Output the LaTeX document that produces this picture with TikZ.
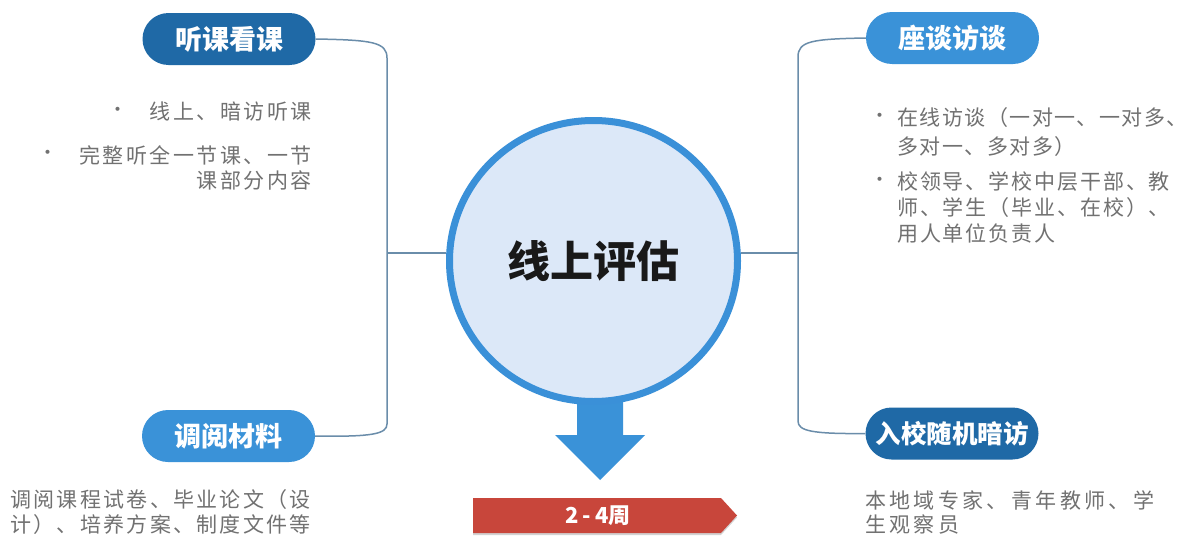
\documentclass[tikz,border=0pt]{standalone}
\usepackage{fontspec}
\newfontfamily\cjk{Noto Sans CJK SC}
\usetikzlibrary{shadows,shapes.geometric}
\definecolor{darkpill}{HTML}{1F69A6}
\definecolor{lightpill}{HTML}{3A92D8}
\definecolor{ring}{HTML}{3A90D8}
\definecolor{ringfill}{HTML}{DCE8F8}
\definecolor{conn}{HTML}{6A8DAA}
\definecolor{bodygray}{HTML}{717171}
\definecolor{banner}{HTML}{C8463B}
\tikzset{
  pill/.style={rectangle, rounded corners=26pt, minimum width=173pt, minimum height=52pt,
    inner sep=0, text=white, font=\cjk\bfseries\fontsize{27}{30}\selectfont},
  body/.style={inner sep=0, text=bodygray, font=\cjk\fontsize{21}{25}\selectfont},
  bul/.style={inner sep=0, text=bodygray, font=\cjk\fontsize{19}{19}\selectfont},
  connector/.style={draw=conn, line width=1.5pt},
}
\begin{document}
\begin{tikzpicture}[x=1pt,y=-1pt]
\useasboundingbox (0,0) rectangle (1192,538);
\fill[white] (0,0) rectangle (1192,538);

% arrow below circle
\fill[lightpill] (577,390) -- (623,390) -- (623,435) -- (645,435) -- (600,480) -- (555,435) -- (577,435) -- cycle;

% central circle
\node[ellipse, draw=ring, line width=7pt, fill=ringfill, minimum width=288pt, minimum height=281pt, inner sep=0,
  font=\cjk\bfseries\fontsize{43}{46}\selectfont, text=black!90] (c) at (593.5,261) {\raisebox{-7pt}{线上评估}};

% pills
\node[pill, fill=darkpill] (p1) at (229,39) {听课看课};
\node[pill, fill=lightpill] (p3) at (228.5,436) {调阅材料};
\node[pill, fill=lightpill] (p2) at (952.5,38) {座谈访谈};
\node[pill, fill=darkpill, font=\cjk\bfseries\fontsize{25.5}{28}\selectfont] (p4) at (952,433.5) {入校随机暗访};

% connectors
\coordinate (hl) at (0,253);
\draw[connector] (p1.east) .. controls (372,40) and (387,42) .. (387,58) -- (387,424) .. controls (387,434) and (372,437) .. (p3.east);
\draw[connector] (p2.west) .. controls (812,39) and (798,41) .. (798,57) -- (798,421) .. controls (798,431) and (812,434) .. (p4.west);
\draw[connector] (c.west |- hl) -- (387,253);
\draw[connector] (c.east |- hl) -- (798,253);

% banner
\fill[banner, drop shadow={shadow xshift=0pt, shadow yshift=-2pt, opacity=0.35}]
  (473,498) -- (721,498) -- (737,515.5) -- (721,533) -- (473,533) -- cycle;
\node[text=white, inner sep=0, font=\cjk\bfseries\fontsize{22}{24}\selectfont] (wk) at (598,515.5) {2\hspace{4pt}-\hspace{4pt}4周};

% left top texts
\node[bul] (lb1) at (118,112) {•};
\node[body, anchor=east] (lt1) at (312,112) {\addfontfeature{LetterSpace=12}线上、暗访听课};
\node[bul] (lb2) at (48,155) {•};
\node[body, anchor=east] (lt2) at (312,155) {\addfontfeature{LetterSpace=12}完整听全一节课、一节};
\node[body, anchor=east] (lt3) at (312,180) {\addfontfeature{LetterSpace=12}课部分内容};

% right top texts
\node[bul] (rb1) at (880,118) {•};
\node[body, anchor=west] (rt1) at (897,118) {\addfontfeature{LetterSpace=7}在线访谈（一对一、一对多、};
\node[body, anchor=west] (rt2) at (897,147) {\addfontfeature{LetterSpace=7}多对一、多对多）};
\node[bul] (rb2) at (880,182) {•};
\node[body, anchor=west] (rt3) at (897,182) {\addfontfeature{LetterSpace=9}校领导、学校中层干部、教};
\node[body, anchor=west] (rt4) at (897,208) {\addfontfeature{LetterSpace=9}师、学生（毕业、在校）、};
\node[body, anchor=west] (rt5) at (897,233) {\addfontfeature{LetterSpace=9}用人单位负责人};

% bottom left
\node[body, anchor=west] (lbt1) at (10,500) {\addfontfeature{LetterSpace=11}调阅课程试卷、毕业论文（设};
\node[body, anchor=west] (lbt2) at (10,525) {\addfontfeature{LetterSpace=11}计）、培养方案、制度文件等};

% bottom right
\node[body, anchor=west] (rbt1) at (865,500) {\addfontfeature{LetterSpace=16}本地域专家、青年教师、学};
\node[body, anchor=west] (rbt2) at (865,525) {\addfontfeature{LetterSpace=16}生观察员};
\end{tikzpicture}
\end{document}
